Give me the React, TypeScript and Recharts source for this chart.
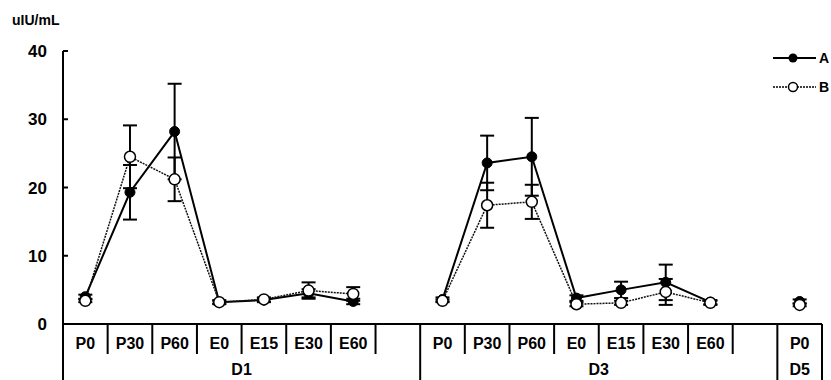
import { LineChart, Line, XAxis, YAxis, ErrorBar } from 'recharts';

// slots along the x axis (blank slots separate the days)
const categories = ['P0', 'P30', 'P60', 'E0', 'E15', 'E30', 'E60', '', 'P0', 'P30', 'P60', 'E0', 'E15', 'E30', 'E60', '', 'P0'];
const groups = [
  { name: 'D1', start: 0, end: 8 },
  { name: 'D3', start: 8, end: 16 },
  { name: 'D5', start: 16, end: 17 },
];
const seriesA = [4.0, 19.3, 28.2, 3.2, 3.5, 4.5, 3.3, null, 3.6, 23.6, 24.5, 3.8, 5.0, 6.1, 3.2, null, 3.3];
const errA = [0.3, 4.0, 7.0, 0.3, 0.3, 0.6, 0.4, null, 0.3, 4.0, 5.7, 0.4, 1.2, 2.6, 0.3, null, 0.3];
const seriesB = [3.4, 24.5, 21.2, 3.2, 3.6, 4.9, 4.4, null, 3.4, 17.4, 17.9, 2.9, 3.1, 4.7, 3.1, null, 2.8];
const errB = [0.2, 4.6, 3.2, 0.2, 0.3, 1.2, 1.0, null, 0.2, 3.3, 2.5, 0.3, 0.3, 1.9, 0.3, null, 0.2];
const yTicks = [0, 10, 20, 30, 40];

const W = 831;
const H = 380;
const X_H = 56;
const M = { top: 51, right: 9, bottom: 0, left: 0 };
const Y_W = 63;
const PLOT_BOTTOM = H - X_H;
const BAND = (W - M.left - M.right - Y_W) / categories.length;
const FONT = '"Liberation Sans", Arial, sans-serif';

const data = categories.map((c, i) => ({
  idx: i,
  a: seriesA[i],
  aErr: errA[i],
  b: seriesB[i],
  bErr: errB[i],
}));

function XTick(props: any) {
  const { x, payload } = props;
  const i = Number(payload.value);
  const left = x - BAND / 2;
  const right = x + BAND / 2;
  const group = groups.find((g) => g.start === i);
  const groupEnd = groups.some((g) => g.end === i + 1);
  return (
    <g>
      <text x={x} y={PLOT_BOTTOM + 25} textAnchor="middle" fontFamily={FONT} fontWeight="bold" fontSize={16} fill="#000">
        {categories[i]}
      </text>
      <line x1={right} x2={right} y1={PLOT_BOTTOM} y2={groupEnd ? H : PLOT_BOTTOM + 30} stroke="#000" strokeWidth={2} />
      {i === 0 && <line x1={left} x2={left} y1={PLOT_BOTTOM} y2={H} stroke="#000" strokeWidth={2} />}
      {group && (
        <text
          x={left + ((group.end - group.start) * BAND) / 2}
          y={PLOT_BOTTOM + 51}
          textAnchor="middle"
          fontFamily={FONT}
          fontWeight="bold"
          fontSize={16}
          fill="#000"
        >
          {group.name}
        </text>
      )}
    </g>
  );
}

function YTick(props: any) {
  const { y, payload } = props;
  return (
    <g>
      <text x={47} y={y + 6} textAnchor="end" fontFamily={FONT} fontWeight="bold" fontSize={17} fill="#000">
        {payload.value}
      </text>
      <line x1={Y_W} x2={Y_W + 5} y1={y} y2={y} stroke="#000" strokeWidth={2} />
    </g>
  );
}

function LegendBox() {
  return (
    <svg width={61} height={50} style={{ position: 'absolute', left: 770, top: 48 }}>
      <line x1={3} x2={46} y1={10} y2={10} stroke="#000" strokeWidth={2} />
      <circle cx={23} cy={10} r={4.5} fill="#000" />
      <text x={49} y={15} fontFamily={FONT} fontWeight="bold" fontSize={14}>A</text>
      <line x1={3} x2={46} y1={39} y2={39} stroke="#000" strokeWidth={1.5} strokeDasharray="2 1" />
      <circle cx={23} cy={39} r={4.5} fill="#fff" stroke="#000" strokeWidth={1.5} />
      <text x={49} y={44} fontFamily={FONT} fontWeight="bold" fontSize={14}>B</text>
    </svg>
  );
}

export default function App() {
  return (
    <div style={{ position: 'absolute', left: 0, top: 0, width: W, height: H, background: '#fff' }}>
      <LineChart width={W} height={H} data={data} margin={M}>
        <XAxis
          dataKey="idx"
          type="category"
          scale="band"
          height={X_H}
          interval={0}
          tickLine={false}
          axisLine={{ stroke: '#000', strokeWidth: 2 }}
          tick={<XTick />}
        />
        <YAxis
          width={Y_W}
          domain={[0, 40]}
          ticks={yTicks}
          tickLine={false}
          axisLine={{ stroke: '#000', strokeWidth: 2 }}
          tick={<YTick />}
          label={{
            content: () => (
              <text x={12} y={25} fontFamily={FONT} fontWeight="bold" fontSize={14} fill="#000">
                uIU/mL
              </text>
            ),
          }}
        />
        <Line
          dataKey="a"
          type="linear"
          stroke="#000"
          strokeWidth={2}
          dot={{ r: 5, fill: '#000', stroke: '#000', strokeWidth: 1 }}
          activeDot={false}
          connectNulls={false}
          isAnimationActive={false}
        >
          <ErrorBar dataKey="aErr" direction="y" width={7} strokeWidth={2} stroke="#000" />
        </Line>
        <Line
          dataKey="b"
          type="linear"
          stroke="#111"
          strokeWidth={1.5}
          strokeDasharray="2 1"
          dot={{ r: 5.5, fill: '#fff', stroke: '#000', strokeWidth: 1.5, strokeDasharray: '' }}
          activeDot={false}
          connectNulls={false}
          isAnimationActive={false}
        >
          <ErrorBar dataKey="bErr" direction="y" width={7} strokeWidth={2} stroke="#000" />
        </Line>
      </LineChart>
      <LegendBox />
    </div>
  );
}
